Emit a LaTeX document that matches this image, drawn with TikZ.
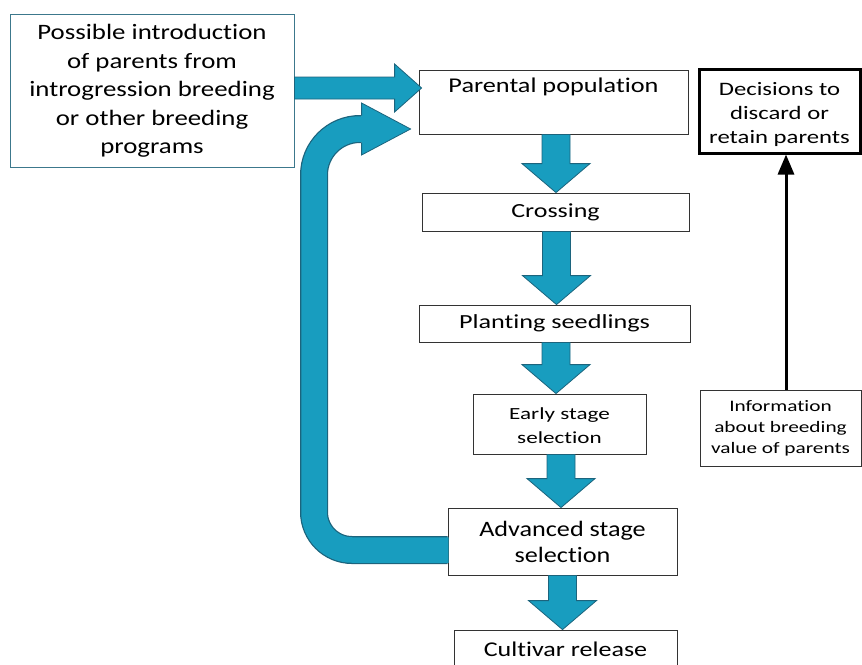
\documentclass[tikz,border=0pt]{standalone}
\usepackage{fontspec}
\setmainfont{Carlito}[Ligatures=NoCommon]
\usetikzlibrary{calc,arrows.meta}
\definecolor{tfill}{RGB}{24,157,191}
\definecolor{tdark}{RGB}{28,100,125}
\definecolor{introborder}{RGB}{60,120,140}
\newcommand\tealdown[3]{%
  \filldraw[tealarrow] let \p1=($(#1.south)+(#3,0)$), \p2=(#2.north) in
    (\x1-14pt,\y1) -- (\x1+14pt,\y1) -- (\x1+14pt,\y2+29pt) -- (\x1+34pt,\y2+29pt)
    -- (\x1,\y2) -- (\x1-34pt,\y2+29pt) -- (\x1-14pt,\y2+29pt) -- cycle;}
\newcommand\fnt[3]{\fontsize{#1}{#2}\selectfont\addfontfeatures{FakeStretch=#3}}
\newcommand\shifted[2]{\raisebox{#1}[0pt][0pt]{\begin{tabular}{@{}c@{}}#2\end{tabular}}}
\begin{document}
\begin{tikzpicture}[x=1pt,y=-1pt,
  box/.style={draw=black!80, line width=0.8pt, fill=white, align=center, inner sep=0pt},
  tealarrow/.style={fill=tfill, draw=tdark, line width=0.8pt, line join=miter}]
\useasboundingbox (0,0) rectangle (862,664);
% nodes
\node[box, draw=introborder, minimum width=284, minimum height=153,
  font=\fnt{22}{28.5}{1.22}] (intro) at (152,91)
  {Possible introduction\\of parents from\\introgression breeding\\or other breeding\\programs};
\node[box, minimum width=269, minimum height=64, font=\fnt{21}{26}{1.25}]
  (par) at (553.5,102) {Parental population\\[0pt]\strut};
\node[box, minimum width=267, minimum height=38, font=\fnt{20}{24}{1.3}]
  (cross) at (555.5,212) {\raisebox{-1.5pt}{Crossing}};
\node[box, minimum width=271, minimum height=37, font=\fnt{20}{24}{1.31}]
  (plant) at (554.5,323.5) {Planting seedlings};
\node[box, minimum width=173, minimum height=60, font=\fnt{17}{24}{1.36}]
  (early) at (559.5,424) {\shifted{-7pt}{Early stage\\selection}};
\node[box, minimum width=229, minimum height=67, font=\fnt{22}{26}{1.19}]
  (adv) at (562.5,541.5) {Advanced stage\\selection};
\node[box, minimum width=223, minimum height=38, font=\fnt{21}{24}{1.24}]
  (cult) at (565.5,649) {Cultivar release};
\node[box, draw=black, line width=3pt, minimum width=161, minimum height=84,
  font=\fnt{19}{24}{1.3}] (dec) at (779.5,111)
  {\shifted{-8.5pt}{Decisions to\\discard or\\retain parents}};
\node[box, minimum width=161, minimum height=76, font=\fnt{16}{21}{1.33}]
  (info) at (780.5,428) {Information\\about breeding\\value of parents};
% down arrows
\tealdown{par}{cross}{2.5}
\tealdown{cross}{plant}{1}
\tealdown{plant}{early}{1.5}
\tealdown{early}{adv}{1.5}
\tealdown{adv}{cult}{0}
% intro -> parental
\filldraw[tealarrow] let \p1=($(intro.east)+(0,-3)$), \p2=(par.west) in
  (\x1,\y1+11pt) -- (\x2-24pt,\y1+11pt) -- (\x2-24pt,\y1+24pt) -- (\x2+3pt,\y1)
  -- (\x2-24pt,\y1-24pt) -- (\x2-24pt,\y1-11pt) -- (\x1,\y1-11pt) -- cycle;
% loop back arrow
\coordinate (ls) at ($(adv.west)+(0,8.5)$);
\coordinate (lh) at ($(par.west)+(-57,27)$);
\draw[tdark, line width=28pt] (ls) [rounded corners=38pt] -- (ls -| 314,0)
  [rounded corners=46pt] -- (314,0 |- lh) -- (lh);
\draw[tfill, line width=25.5pt] ($(ls)+(1,0)$) [rounded corners=38pt] -- (ls -| 314,0)
  [rounded corners=46pt] -- (314,0 |- lh) -- ($(lh)+(1,0)$);
\fill[tfill] ($(lh)+(0,-26)$) -- ($(lh)+(49,0)$) -- ($(lh)+(0,26)$) -- cycle;
\draw[tdark, line width=0.8pt, line join=miter]
  ($(lh)+(0,-13.5)$) -- ($(lh)+(0,-26)$) -- ($(lh)+(49,0)$) -- ($(lh)+(0,26)$) -- ($(lh)+(0,13.5)$);
% information -> decisions
\draw[line width=3pt, -{Triangle[length=20pt,width=16pt]}]
  ([xshift=5.5pt]info.north) -- ([xshift=6.5pt]dec.south);
\end{tikzpicture}
\end{document}
